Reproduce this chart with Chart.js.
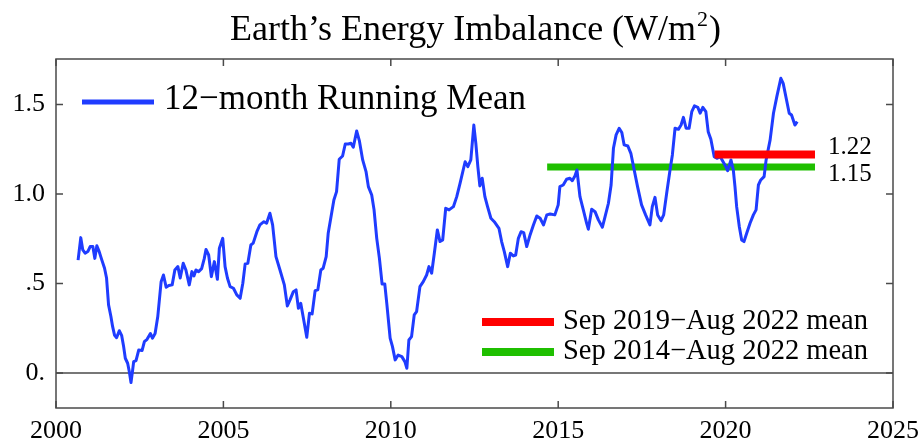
<!DOCTYPE html>
<html>
<head>
<meta charset="utf-8">
<script src="https://cdn.jsdelivr.net/npm/chart.js@4.4.0/dist/chart.umd.min.js"></script>
<style>
  html, body { margin: 0; padding: 0; background: #fff; }
  #wrap { width: 922px; height: 443px; }
</style>
</head>
<body>
<div id="wrap"><canvas id="eei"></canvas></div>
<script>
// 12-month running mean (decimal year, W/m2)
const years = [
  2000.66, 2000.74, 2000.80, 2000.87, 2000.95, 2001.02, 2001.10, 2001.16, 2001.22, 2001.29,
  2001.37, 2001.45, 2001.51, 2001.57, 2001.64, 2001.69, 2001.75, 2001.81, 2001.89, 2001.96,
  2002.02, 2002.07, 2002.14, 2002.19, 2002.24, 2002.29, 2002.32, 2002.39, 2002.47, 2002.57,
  2002.64, 2002.72, 2002.82, 2002.88, 2002.96, 2003.04, 2003.14, 2003.21, 2003.29, 2003.37,
  2003.47, 2003.55, 2003.64, 2003.71, 2003.80, 2003.88, 2003.98, 2004.06, 2004.12, 2004.18,
  2004.26, 2004.35, 2004.43, 2004.48, 2004.56, 2004.64, 2004.73, 2004.82, 2004.88, 2004.98,
  2005.05, 2005.12, 2005.20, 2005.30, 2005.40, 2005.50, 2005.58, 2005.65, 2005.73, 2005.82,
  2005.89, 2006.00, 2006.09, 2006.21, 2006.29, 2006.39, 2006.47, 2006.57, 2006.69, 2006.82,
  2006.91, 2006.99, 2007.09, 2007.17, 2007.24, 2007.31, 2007.39, 2007.49, 2007.57, 2007.65,
  2007.74, 2007.82, 2007.91, 2007.98, 2008.07, 2008.13, 2008.24, 2008.30, 2008.38, 2008.46,
  2008.56, 2008.64, 2008.73, 2008.81, 2008.88, 2008.98, 2009.06, 2009.16, 2009.26, 2009.33,
  2009.43, 2009.50, 2009.58, 2009.66, 2009.74, 2009.82, 2009.88, 2009.98, 2010.05, 2010.13,
  2010.22, 2010.33, 2010.42, 2010.48, 2010.54, 2010.62, 2010.70, 2010.77, 2010.87, 2010.97,
  2011.07, 2011.14, 2011.22, 2011.30, 2011.39, 2011.47, 2011.55, 2011.64, 2011.74, 2011.87,
  2011.97, 2012.07, 2012.22, 2012.30, 2012.39, 2012.48, 2012.54, 2012.60, 2012.66, 2012.73,
  2012.81, 2012.89, 2012.99, 2013.09, 2013.23, 2013.31, 2013.39, 2013.49, 2013.57, 2013.66,
  2013.73, 2013.81, 2013.89, 2013.97, 2014.06, 2014.16, 2014.26, 2014.36, 2014.46, 2014.56,
  2014.66, 2014.76, 2014.90, 2015.00, 2015.05, 2015.15, 2015.25, 2015.35, 2015.42, 2015.50,
  2015.56, 2015.65, 2015.75, 2015.85, 2015.90, 2016.00, 2016.10, 2016.20, 2016.32, 2016.40,
  2016.50, 2016.58, 2016.65, 2016.73, 2016.82, 2016.90, 2016.97, 2017.08, 2017.17, 2017.27,
  2017.37, 2017.49, 2017.61, 2017.74, 2017.81, 2017.89, 2017.97, 2018.07, 2018.15, 2018.24,
  2018.34, 2018.41, 2018.49, 2018.59, 2018.67, 2018.74, 2018.82, 2018.91, 2018.99, 2019.07,
  2019.17, 2019.24, 2019.32, 2019.41, 2019.48, 2019.56, 2019.66, 2019.74, 2019.84, 2019.98,
  2020.06, 2020.16, 2020.23, 2020.28, 2020.33, 2020.41, 2020.48, 2020.55, 2020.63, 2020.73,
  2020.83, 2020.91, 2020.98, 2021.05, 2021.15, 2021.21, 2021.33, 2021.43, 2021.53, 2021.65,
  2021.72, 2021.82, 2021.90, 2021.97, 2022.07, 2022.14
];
const runningMean = [
  0.63, 0.756, 0.687, 0.669, 0.678, 0.706, 0.706, 0.64, 0.71, 0.678,
  0.63, 0.585, 0.53, 0.38, 0.315, 0.26, 0.21, 0.197, 0.236, 0.21,
  0.147, 0.082, 0.054, 0.007, -0.054, 0.017, 0.063, 0.069, 0.128, 0.125,
  0.175, 0.188, 0.22, 0.194, 0.22, 0.315, 0.51, 0.547, 0.479, 0.488,
  0.492, 0.575, 0.594, 0.53, 0.613, 0.575, 0.492, 0.566, 0.542, 0.575,
  0.566, 0.583, 0.64, 0.69, 0.659, 0.538, 0.622, 0.523, 0.697, 0.752,
  0.594, 0.53, 0.482, 0.473, 0.436, 0.417, 0.501, 0.609, 0.613, 0.715,
  0.725, 0.789, 0.827, 0.845, 0.836, 0.892, 0.827, 0.65, 0.575, 0.492,
  0.374, 0.408, 0.454, 0.464, 0.361, 0.389, 0.306, 0.199, 0.333, 0.33,
  0.46, 0.464, 0.575, 0.585, 0.65, 0.78, 0.901, 0.966, 1.013, 1.194,
  1.212, 1.279, 1.279, 1.283, 1.261, 1.352, 1.298, 1.19, 1.125, 1.041,
  0.994, 0.911, 0.752, 0.64, 0.497, 0.497, 0.389, 0.194, 0.147, 0.073,
  0.1, 0.091, 0.063, 0.026, 0.184, 0.203, 0.324, 0.342, 0.482, 0.51,
  0.547, 0.594, 0.557, 0.669, 0.799, 0.734, 0.743, 0.92, 0.911, 0.929,
  0.985, 1.06, 1.18, 1.153, 1.19, 1.385, 1.283, 1.153, 1.045, 1.088,
  0.985, 0.929, 0.864, 0.845, 0.808, 0.734, 0.678, 0.594, 0.669, 0.654,
  0.659, 0.752, 0.789, 0.784, 0.706, 0.771, 0.827, 0.877, 0.864, 0.827,
  0.883, 0.888, 0.883, 0.939, 1.041, 1.05, 1.082, 1.088, 1.074, 1.1,
  1.134, 0.985, 0.911, 0.836, 0.803, 0.914, 0.901, 0.855, 0.814, 0.873,
  0.948, 1.05, 1.255, 1.33, 1.367, 1.343, 1.274, 1.268, 1.227, 1.134,
  1.041, 0.939, 0.883, 0.827, 0.929, 0.981, 0.883, 0.851, 0.883, 1.004,
  1.134, 1.218, 1.367, 1.361, 1.385, 1.428, 1.367, 1.367, 1.46, 1.492,
  1.484, 1.451, 1.484, 1.46, 1.348, 1.306, 1.208, 1.199, 1.208, 1.162,
  1.13, 1.19, 1.134, 1.041, 0.929, 0.817, 0.743, 0.734, 0.78, 0.836,
  0.883, 0.911, 1.05, 1.078, 1.097, 1.19, 1.302, 1.451, 1.544, 1.646,
  1.618, 1.525, 1.451, 1.441, 1.385, 1.404
];

// period means: Sep 2019-Aug 2022 and Sep 2014-Aug 2022
const meanRecentSpan = [2019.67, 2022.67];
const meanRecent = 1.22;
const meanLongSpan = [2014.67, 2022.67];
const meanLong = 1.15;

const xTicks = [2000, 2005, 2010, 2015, 2020, 2025];
const yTicks = [0, 0.5, 1.0, 1.5];
const yTickLabels = ['0.', '.5', '1.0', '1.5'];

const SERIF = '"Liberation Serif", "Times New Roman", serif';
const BLUE = '#1f3cff';
const RED = '#ff0000';
const GREEN = '#1fbf00';
const FRAME = '#4a4a4a';

// frame, inside ticks, zero line
const framePlugin = {
  id: 'frame',
  beforeDatasetsDraw(chart) {
    const { ctx, chartArea: a, scales: { x, y } } = chart;
    ctx.save();
    ctx.strokeStyle = FRAME;
    ctx.lineWidth = 1.5;
    const y0 = y.getPixelForValue(0);
    ctx.beginPath();
    ctx.moveTo(a.left, y0);
    ctx.lineTo(a.right, y0);
    ctx.stroke();
    ctx.strokeRect(a.left, a.top, a.right - a.left, a.bottom - a.top);
    ctx.beginPath();
    xTicks.forEach(v => {
      const px = x.getPixelForValue(v);
      ctx.moveTo(px, a.top); ctx.lineTo(px, a.top + 7);
      ctx.moveTo(px, a.bottom); ctx.lineTo(px, a.bottom - 7);
    });
    yTicks.forEach(v => {
      const py = y.getPixelForValue(v);
      ctx.moveTo(a.left, py); ctx.lineTo(a.left + 7, py);
      ctx.moveTo(a.right, py); ctx.lineTo(a.right - 7, py);
    });
    ctx.stroke();
    ctx.restore();
  }
};

// title, legends and value labels
const textPlugin = {
  id: 'texts',
  afterDraw(chart) {
    const { ctx, chartArea: a, scales: { x, y } } = chart;
    ctx.save();
    ctx.fillStyle = '#000';
    ctx.textBaseline = 'alphabetic';

    // title with superscript
    const main = 'Earth’s Energy Imbalance (W/m';
    ctx.font = '36px ' + SERIF;
    const wMain = ctx.measureText(main).width;
    ctx.font = '22px ' + SERIF;
    const wSup = ctx.measureText('2').width;
    ctx.font = '36px ' + SERIF;
    const wClose = ctx.measureText(')').width;
    let tx = (a.left + a.right) / 2 - (wMain + wSup + wClose) / 2;
    ctx.textAlign = 'left';
    ctx.fillText(main, tx, 40);
    ctx.font = '22px ' + SERIF;
    ctx.fillText('2', tx + wMain + 1, 26);
    ctx.font = '36px ' + SERIF;
    ctx.fillText(')', tx + wMain + wSup + 2, 40);

    // running mean legend
    ctx.strokeStyle = BLUE;
    ctx.lineWidth = 5;
    ctx.beginPath();
    ctx.moveTo(82, 102); ctx.lineTo(154, 102);
    ctx.stroke();
    ctx.font = '35px ' + SERIF;
    ctx.textBaseline = 'middle';
    ctx.fillText('12−month Running Mean', 164, 100);

    // period mean legend
    ctx.lineWidth = 8;
    ctx.strokeStyle = RED;
    ctx.beginPath(); ctx.moveTo(482, 322); ctx.lineTo(554, 322); ctx.stroke();
    ctx.strokeStyle = GREEN;
    ctx.beginPath(); ctx.moveTo(482, 352); ctx.lineTo(554, 352); ctx.stroke();
    ctx.font = '28.5px ' + SERIF;
    ctx.fillText('Sep 2019−Aug 2022 mean', 563, 322);
    ctx.fillText('Sep 2014−Aug 2022 mean', 563, 352);

    // value labels next to the mean bars
    ctx.font = '25px ' + SERIF;
    const lx = x.getPixelForValue(meanRecentSpan[1]) + 13;
    ctx.fillText(meanRecent.toFixed(2), lx, y.getPixelForValue(meanRecent) - 7);
    ctx.fillText(meanLong.toFixed(2), lx, y.getPixelForValue(meanLong) + 7);
    ctx.restore();
  }
};

new Chart(document.getElementById('eei'), {
  type: 'scatter',
  data: {
    datasets: [
      {
        label: 'Sep 2014−Aug 2022 mean',
        data: meanLongSpan.map(t => ({ x: t, y: meanLong })),
        showLine: true,
        borderColor: GREEN,
        borderWidth: 7,
        borderCapStyle: 'butt',
        pointRadius: 0,
        order: 2
      },
      {
        label: '12−month Running Mean',
        data: years.map((t, i) => ({ x: t, y: runningMean[i] })),
        showLine: true,
        borderColor: BLUE,
        borderWidth: 3,
        borderJoinStyle: 'round',
        tension: 0,
        pointRadius: 0,
        order: 1
      },
      {
        label: 'Sep 2019−Aug 2022 mean',
        data: meanRecentSpan.map(t => ({ x: t, y: meanRecent })),
        showLine: true,
        borderColor: RED,
        borderWidth: 8,
        borderCapStyle: 'butt',
        pointRadius: 0,
        order: 0
      }
    ]
  },
  options: {
    responsive: true,
    maintainAspectRatio: false,
    animation: false,
    layout: { padding: { top: 59, right: 29, left: 0, bottom: 0 } },
    plugins: {
      legend: { display: false },
      tooltip: { enabled: false },
      title: { display: false }
    },
    scales: {
      x: {
        type: 'linear',
        min: 2000,
        max: 2025,
        afterBuildTicks: s => { s.ticks = xTicks.map(v => ({ value: v })); },
        afterFit: s => { s.height = 35; s.paddingLeft = 0; s.paddingRight = 0; },
        grid: { display: false, drawTicks: false },
        border: { display: false },
        ticks: {
          color: '#000',
          padding: 8,
          maxRotation: 0,
          font: { family: SERIF, size: 26 },
          callback: v => String(v)
        }
      },
      y: {
        min: -0.196,
        max: 1.754,
        afterBuildTicks: s => { s.ticks = yTicks.map(v => ({ value: v })); },
        afterFit: s => { s.width = 56; s.paddingTop = 0; s.paddingBottom = 0; },
        grid: { display: false, drawTicks: false },
        border: { display: false },
        ticks: {
          color: '#000',
          padding: 11,
          font: { family: SERIF, size: 26 },
          callback: v => yTickLabels[yTicks.indexOf(v)]
        }
      }
    }
  },
  plugins: [framePlugin, textPlugin]
});
</script>
</body>
</html>
